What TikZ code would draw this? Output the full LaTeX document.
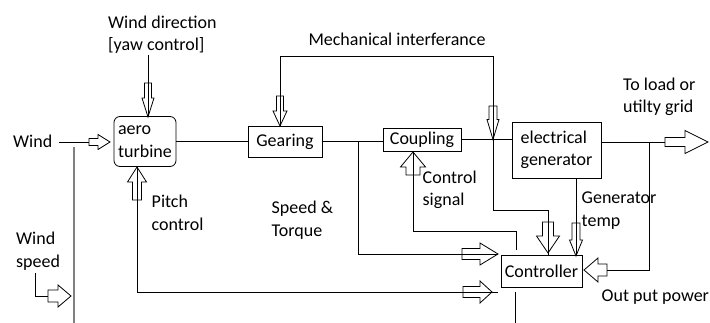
\documentclass[tikz,border=0pt]{standalone}
\usepackage{fontspec}
\setmainfont{Carlito}
\tikzset{
  box/.style={draw, line width=0.8pt, inner sep=0pt, align=center},
  lbl/.style={inner sep=0pt, anchor=west, align=left},
  wire/.style={line width=0.8pt},
  pics/harrow/.style args={#1/#2/#3/#4}{code={
    \draw[wire] (0,{-#2}) -- ({#1-#4},{-#2}) -- ({#1-#4},{-#3}) -- (#1,0)
      -- ({#1-#4},#3) -- ({#1-#4},#2) -- (0,#2) -- cycle;}}
}
\begin{document}
\begin{tikzpicture}[x=1pt,y=-1pt,font=\fontsize{18}{22.5}\selectfont]
	\useasboundingbox (0,0) rectangle (710,323);
	% blocks
	\node[box,rounded corners=6pt,minimum width=62,minimum height=50,align=left] (turbine) at (145,141.5) {aero\\turbine};
	\node[box,minimum width=74,minimum height=31] (gearing) at (285,141.5) {Gearing};
	\node[box,minimum width=78,minimum height=23] (coupling) at (422,139.5) {Coupling};
	\node[box,minimum width=89,minimum height=56,align=left] (generator) at (556.5,150) {electrical\\generator};
	\node[box,minimum width=81,minimum height=32] (controller) at (541.5,271) {Controller};
	% labels
	\node[lbl] (winddir) at (108,34.5) {Wind direction\\{[yaw control]}};
	\node[inner sep=0pt] (mech) at (397,39.5) {Mechanical interferance};
	\node[lbl] (toload) at (623,97) {To load or\\utilty grid};
	\node[lbl] (wind) at (13,141) {Wind};
	\node[lbl] (pitch) at (151.5,213) {Pitch\\control};
	\node[lbl] (speed) at (271.5,220) {Speed \&\\Torque};
	\node[lbl] (ctrlsig) at (422.5,189.6) {Control\\signal};
	\node[lbl] (gentemp) at (581.5,210.7) {Generator\\temp};
	\node[lbl] (windspeed) at (16,251) {Wind\\speed};
	\node[lbl] (outpower) at (601.5,297) {Out put power};
	% yaw
	\coordinate (yawtop) at (148,55);
	\draw[wire] (yawtop) -- (yawtop |- turbine.north);
	\pic[rotate=-90] at (148,83) {harrow=34/3.5/6/19};
	% wind
	\coordinate (windtail) at (89,142);
	\draw[wire] (59,142) -- (windtail);
	\pic at (windtail) {harrow=21/3.5/7.5/12};
	\draw[line width=1.2pt,gray] (74,147) -- (74,323);
	% shaft
	\draw[wire] (turbine.east) -- (gearing.west);
	\draw[wire] (gearing.east) -- (gearing.east -| coupling.west);
	\draw[wire] (coupling.east) -- (coupling.east -| generator.west);
	% speed and torque
	\coordinate (st) at (358,141.5);
	\draw[wire] (st) |- (498,254);
	\pic at (462,254) {harrow=36/5.5/11/18};
	% pitch control
	\coordinate (pc) at (137,292);
	\draw[wire] (turbine.south -| pc) -- (pc) -- (498,292);
	\pic[rotate=90] at (137,200) {harrow=33/4.5/9.5/15};
	\pic at (463,292) {harrow=29/5.5/11/12};
	% mechanical interferance
	\coordinate (mechL) at (280,56);
	\coordinate (mechR) at (493,56);
	\draw[wire] (gearing.north -| mechL) -- (mechL) -- (mechR) -- (mechR |- coupling.east);
	\pic[rotate=-90] at (280,96) {harrow=30/3.5/7/15};
	\pic[rotate=-90] at (493,106) {harrow=33.5/4/6/20};
	\coordinate (cin) at (548,210);
	\draw[wire] (mechR |- coupling.east) |- (cin) -- (cin |- controller.north);
	\pic[rotate=-90] at (548,222) {harrow=31/5.5/11.5/17};
	% control signal
	\coordinate (cs) at (413,231);
	\coordinate (csr) at (516,231);
	\draw[wire] (coupling.south -| cs) -- (cs) -- (csr) -- (516,250);
	\pic[rotate=90] at (413,175) {harrow=23/7/12.5/15};
	\coordinate (cbot) at (515,292);
	\draw[wire] (cbot) -- (515,323);
	% generator temp
	\coordinate (gt) at (576,178);
	\draw[wire] (generator.south -| gt) -- (gt |- controller.north);
	\pic[rotate=-90] at (576,223) {harrow=33/4/6.5/16};
	% output power
	\coordinate (load) at (665,142);
	\draw[wire] (generator.east |- load) -- (load);
	\pic at (load) {harrow=43/4.5/11.5/23};
	\coordinate (op) at (649,142);
	\coordinate (opc) at (649,270);
	\draw[wire] (op) -- (opc) -- (607,270);
	\pic[rotate=180] at (607,270) {harrow=23/6/12/14};
	% wind speed
	\draw[wire] (35,273) |- (48,296);
	\pic at (48,296) {harrow=23/6/11/13};
\end{tikzpicture}
\end{document}
